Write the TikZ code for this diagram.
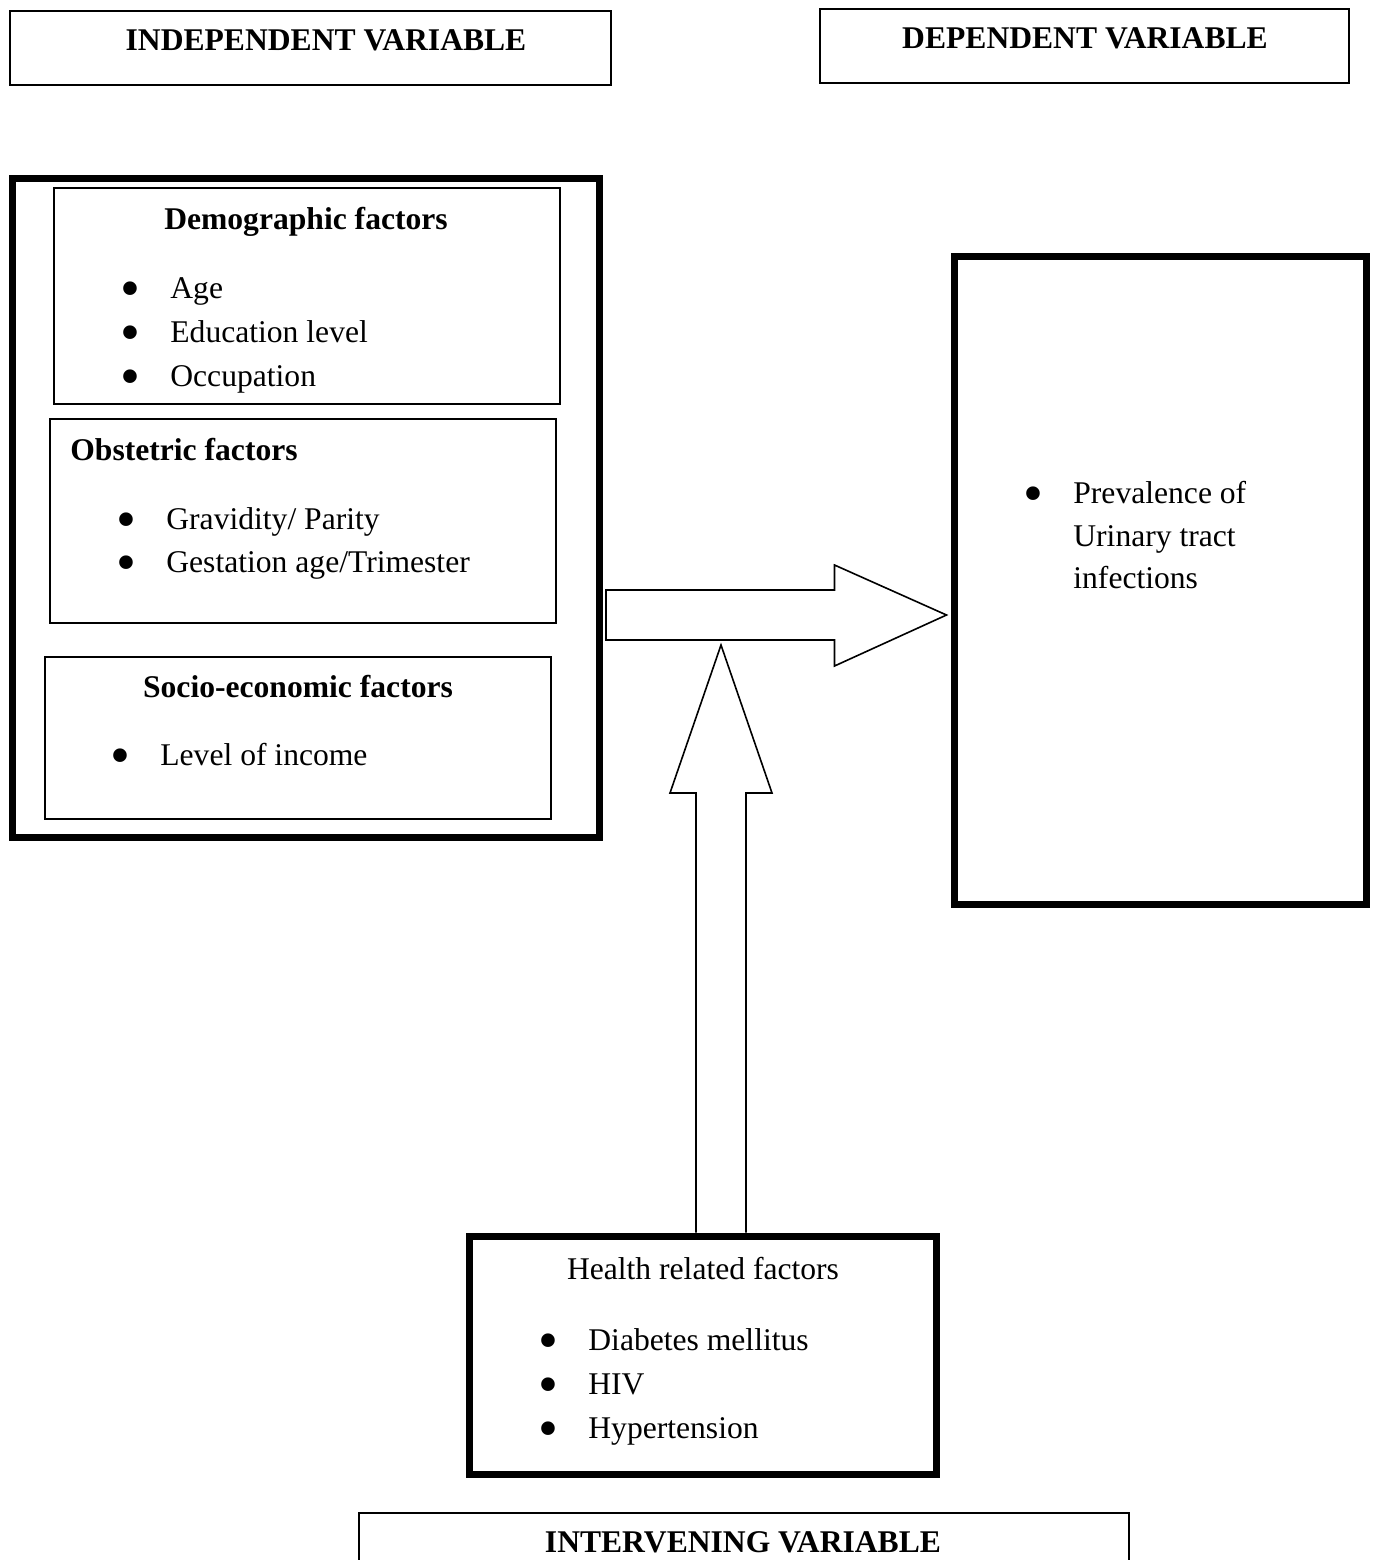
\documentclass[tikz,border=0pt]{standalone}
\usepackage{fontspec}
\setmainfont{Liberation Serif}
\usetikzlibrary{calc,fit}
\newcommand{\figfont}{\fontsize{15.8}{22}\selectfont}
\newcommand{\bulletitem}[1]{\makebox[24pt][l]{\hspace{-1pt}\smash{\raisebox{-0.29em}{\scalebox{1.8}{\textbullet}}}}#1}

\begin{document}
\begin{tikzpicture}[x=0.5pt,y=-0.5pt]
  \tikzset{thin box/.style={draw, line width=1pt, inner sep=0pt},
    thick box/.style={draw, line width=3.5pt, inner sep=0pt},
    item/.style={inner sep=0pt, anchor=base west, font=\figfont},
    heading/.style={inner sep=0pt, anchor=base, font=\figfont\bfseries},
    block arrow/.style={draw, line width=0.8pt, line join=miter}
  }
  \useasboundingbox (0,0) rectangle (1375,1560);
  \clip (0,0) rectangle (1375,1560);

  % variable labels
  \node [thin box, fit={(10,11) (611,85)}] (indep) {};
  \node [thin box, fit={(820,9) (1349,83)}] (depend) {};
  \node [thin box, fit={(359,1513) (1129,1600)}] (interv) {};
  \node [heading] (indepT) at (326,50) {INDEPENDENT VARIABLE};
  \node [heading] (dependT) at (1085,48) {DEPENDENT VARIABLE};
  \node [heading] (intervT) at (743,1552) {INTERVENING VARIABLE};

  % independent factors
  \node [thick box, fit={(12.5,178.5) (599.5,837.5)}] (indepbox) {};
  \node [thin box, fit={(54,188) (560,404)}] (demo) {};
  \node [thin box, fit={(50,419) (556,623)}] (obst) {};
  \node [thin box, fit={(45,657) (551,819)}] (socio) {};
  \node [heading] (demoT) at (306,229) {Demographic factors};
  \node [heading, anchor=base west] (obstT) at (70,460) {Obstetric factors};
  \node [heading] (socioT) at (298,697) {Socio-economic factors};
  \foreach \txt [count=\i] in {Age, Education level, Occupation}
    \node [item] (demo-\i) at (122,254+44*\i) {\bulletitem{\txt}};
  \foreach \txt [count=\i] in {Gravidity/ Parity, Gestation age/Trimester}
    \node [item] (obst-\i) at (118,486+43*\i) {\bulletitem{\txt}};
  \node [item] (socio-1) at (112,765) {\bulletitem{Level of income}};

  % dependent
  \node [thick box, fit={(954,256) (1366,904)}] (depbox) {};
  \node [item] (dep-1) at (1025,503) {\bulletitem{Prevalence of}};
  \node [item] (dep-2) at (1073,546) {Urinary tract};
  \node [item] (dep-3) at (1073,588) {infections};

  % intervening
  \node [thick box, fit={(469,1236) (936,1474)}] (health) {};
  \node [item, anchor=base] (healthT) at (703,1279) {Health related factors};
  \foreach \txt [count=\i] in {Diabetes mellitus, HIV, Hypertension}
    \node [item] (health-\i) at (540,1306+44*\i) {\bulletitem{\txt}};

  % block arrows
  \coordinate (rtail) at ($(indepbox.east |- 0,615)+(3,0)$);
  \coordinate (rtip) at ($(depbox.west |- 0,615)+(-4,0)$);
  \draw [block arrow] ($(rtail)+(0,-25)$) -- ($(rtip)+(-112,-25)$)
    -- ($(rtip)+(-112,-50)$) -- (rtip) -- ($(rtip)+(-112,51)$)
    -- ($(rtip)+(-112,25)$) -- ($(rtail)+(0,25)$) -- cycle;
  \coordinate (utip) at (721,645);
  \coordinate (ubase) at (utip |- health.north);
  \draw [block arrow] ($(ubase)+(-25,0)$) -- ($(utip)+(-25,148)$)
    -- ($(utip)+(-51,148)$) -- (utip) -- ($(utip)+(51,148)$)
    -- ($(utip)+(25,148)$) -- ($(ubase)+(25,0)$);
\end{tikzpicture}
\end{document}
